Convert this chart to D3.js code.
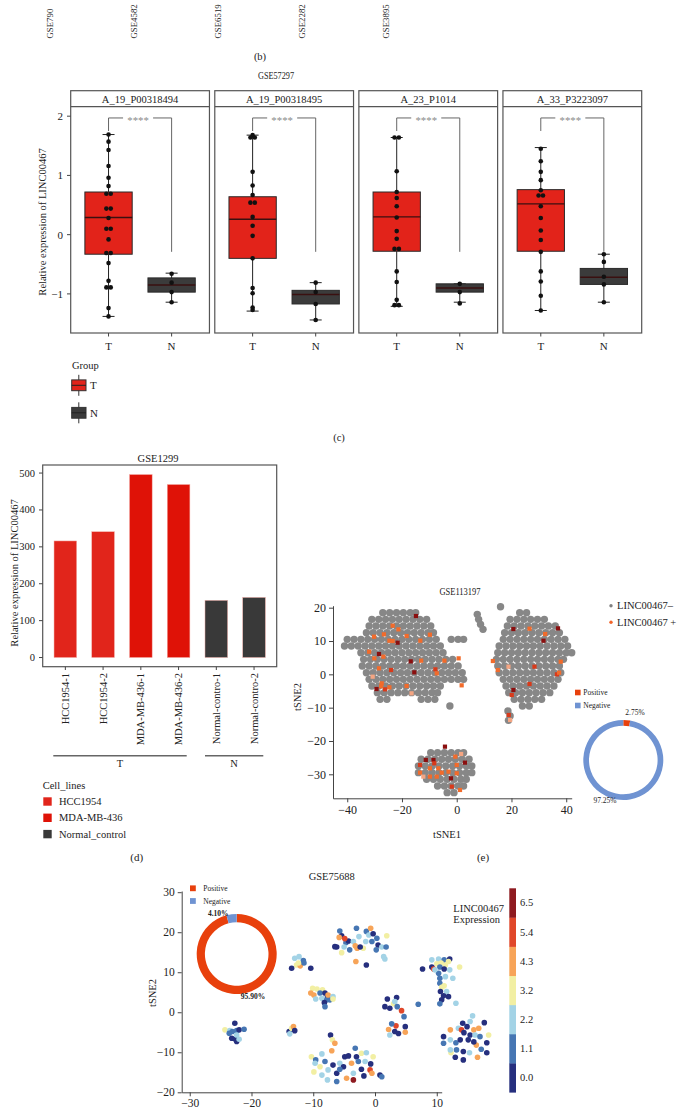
<!DOCTYPE html>
<html><head><meta charset="utf-8">
<script src="https://cdnjs.cloudflare.com/ajax/libs/d3/7.8.5/d3.min.js"></script>
<style>
body{margin:0;background:#fff}
svg{display:block}
text{font-family:"Liberation Serif","Times New Roman",serif;fill:#222}
</style></head>
<body><svg id="c" width="678" height="1109"></svg>
<script>
// ---------------- DATA ----------------
const panelBLabels = ["GSE790","GSE4582","GSE6519","GSE2282","GSE3895"];

const probes = ["A_19_P00318494","A_19_P00318495","A_23_P1014","A_33_P3223097"];
const groups = ["T","N"];
// [lowWhisker, q1, median, q3, highWhisker]
const boxT = [[-1.38,-0.33,0.29,0.72,1.69],[-1.29,-0.40,0.26,0.64,1.68],[-1.21,-0.28,0.30,0.72,1.64],[-1.28,-0.28,0.52,0.76,1.47]];
const boxN = [[-1.14,-0.97,-0.85,-0.73,-0.65],[-1.44,-1.17,-1.01,-0.94,-0.81],[-1.14,-0.97,-0.90,-0.83,-0.83],[-1.14,-0.84,-0.72,-0.57,-0.33]];
const ptsT = [
 [1.69,1.57,1.43,1.16,0.96,0.82,0.69,0.69,0.44,0.44,0.28,0.10,0.10,-0.08,-0.31,-0.31,-0.48,-0.78,-0.89,-0.89,-1.24,-1.38],
 [1.68,1.64,1.64,1.06,0.83,0.67,0.54,0.54,0.30,0.15,-0.02,-0.40,-0.90,-0.99,-1.23,-1.27],
 [1.64,1.64,1.07,0.72,0.62,0.48,0.29,0.06,-0.07,-0.24,-0.24,-0.62,-0.80,-1.10,-1.19,-1.19],
 [1.45,1.24,1.06,0.92,0.75,0.66,0.66,0.48,0.28,0.07,-0.09,-0.29,-0.62,-0.79,-1.03,-1.28]];
const ptsN = [[-0.66,-0.81,-0.97,-1.14],[-0.81,-0.97,-1.17,-1.44],[-0.83,-0.97,-1.16],[-0.33,-0.46,-0.71,-0.84,-1.14]];
const sigLabel = "****";
const yTicksC = [-1,0,1,2];

const cellSamples = ["HCC1954-1","HCC1954-2","MDA-MB-436-1","MDA-MB-436-2","Normal-contro-1","Normal-contro-2"];
const cellLine = ["HCC1954","HCC1954","MDA-MB-436","MDA-MB-436","Normal_control","Normal_control"];
const cellValues = [316,341,496,469,155,163];
const cellLines = ["HCC1954","MDA-MB-436","Normal_control"];
const yTicksD = [0,100,200,300,400,500];

// GSE113197 t-SNE: grey (LINC00467-) cells, rows of [tSNE2, [tSNE1...]]
const greyRowsE = [
 [18.5,[-27,-24.5,-22,-19.5,-17,-15]],
 [16.5,[-31,-28.5,-26,-23.5,-21,-18.5,-16,-13.5,-11]],
 [14.5,[-32,-29.5,-27,-24.5,-22,-19.5,-17,-14.5,-12,-9.5]],
 [12.5,[-33,-30.5,-28,-25.5,-23,-20.5,-18,-15.5,-13,-10.5,-8.5]],
 [10.5,[-40,-37.5,-35,-32.5,-30,-27.5,-25,-22.5,-20,-17.5,-15,-12.5,-10,-7.5,-2,0.5,2.5]],
 [8.5,[-41,-38.5,-36,-33.5,-31,-28.5,-26,-23.5,-21,-18.5,-16,-13.5,-11,-8.5,-6]],
 [6.5,[-35,-32.5,-30,-27.5,-25,-22.5,-20,-17.5,-15,-12.5,-10,-7.5,-5]],
 [4.5,[-34,-31.5,-29,-26.5,-24,-21.5,-19,-16.5,-14,-11.5,-9,-6.5,-4,-1.5]],
 [2.5,[-34.5,-32,-29.5,-27,-24.5,-22,-19.5,-17,-14.5,-12,-9.5,-7,-4.5,-2,0.5]],
 [0.5,[-33,-30.5,-28,-25.5,-23,-20.5,-18,-15.5,-13,-10.5,-8,-5.5,-3,-0.5,2]],
 [-1.5,[-32,-29.5,-27,-24.5,-22,-19.5,-17,-14.5,-12,-9.5,-7,-4.5,-2,0.5,2.5]],
 [-3.5,[-31,-28.5,-26,-23.5,-21,-18.5,-16,-13.5,-11,-8.5,-6]],
 [-5.5,[-29,-26.5,-24,-21.5,-19,-16.5,-14,-11.5,-9,-7]],
 [-7.5,[-28,-25.5,-13,-10.5,-8]],
 [-9.5,[-2.5]],
 [18.5,[23,25.5]],
 [16.5,[19.5,22,24.5,27,29.5,32]],
 [14.5,[18.5,21,23.5,26,28.5,31,33.5,36]],
 [12.5,[17.5,20,22.5,25,27.5,30,32.5,35,37.5]],
 [10.5,[17,19.5,22,24.5,27,29.5,32,34.5,37,39.5]],
 [8.5,[15.5,18,20.5,23,25.5,28,30.5,33,35.5,38,40.5]],
 [6.5,[15,17.5,20,22.5,25,27.5,30,32.5,35,37.5,40,42]],
 [4.5,[14.5,17,19.5,22,24.5,27,29.5,32,34.5,37,39]],
 [2.5,[15,17.5,20,22.5,25,27.5,30,32.5,35,37.5]],
 [0.5,[15.5,18,20.5,23,25.5,28,30.5,33,35.5,38]],
 [-1.5,[17,19.5,22,24.5,27,29.5,32,34.5,37]],
 [-3.5,[18,20.5,23,25.5,28,30.5,33,35.5]],
 [-5.5,[19,21.5,24,26.5,29,31.5,34]],
 [-7.5,[21,23.5,26,28.5,31]],
 [-9.5,[24,26.5]],
 [18,[7.5]],[16.5,[8]],[15,[8.7]],[13.5,[9.6]],[20.3,[16]],
 [-11,[18.7]],[-12.5,[19.5]],[-13.8,[18.9]],
 [-23.5,[-9.5,-7,-4.5,-2,0.5,2.5]],
 [-25.5,[-13,-10.5,-8,-5.5,-3,-0.5,2,4.5]],
 [-27.5,[-14,-11.5,-9,-6.5,-4,-1.5,1,3.5,5.5]],
 [-29.5,[-14,-11.5,-9,-6.5,-4,-1.5,1,3.5,5.5]],
 [-31.5,[-11,-8.5,-6,-3.5,-1,1.5,3.5]],
 [-33.5,[-7,-4.5,-2,0.5,2.5]],
 [-35.5,[-3.5,-1]]
];
// LINC00467+ cells: [tSNE1, tSNE2, level 0..3]
const posE = [
 [-14.9,17.5,3],[-23.4,14.6,1],[-26.6,12,1],[-21.3,13.5,1],[-30.2,11.3,1],[-24.6,10.1,1],[-23.4,10,1],[-21.6,9.5,3],
 [-18.3,11.5,1],[-13.3,10.1,1],[-9.8,11.9,1],[-32,6.8,1],[-28.4,6.1,3],[-30.1,4.8,1],[-26.8,5.3,1],[-16.8,3.9,3],
 [-13,4.1,1],[-4.5,4.1,1],[-28.4,1.8,1],[-24,1.3,2],[-15.5,0.6,3],[-7.8,1.5,2],[-7.3,0.3,1],[-30.7,-0.7,0],
 [-27.4,-2.7,1],[-29.3,-4.4,3],[-26.2,-4.5,2],[-24.6,-3.9,1],[-27.6,-3.6,1],[-18.3,-3.5,1],[-16.5,-5.7,0],[1.8,-3.3,1],[0.7,4.8,1],
 [20.7,13.6,3],[26.6,13.7,1],[32.3,12.1,1],[37,13.8,3],[31.7,10.1,3],[13.2,4,1],[15,1.3,1],[18.9,2.3,0],[28.4,2.3,2],
 [38,3.8,1],[36.6,0,2],[37.4,0.5,1],[26.6,-2.9,2],[20.7,-4.7,3],[20.1,-6.2,2],[19,-12.2,2],[19.5,-13.7,0],
 [-4.3,-21.7,3],[-11.3,-25.7,3],[-8.5,-25.7,3],[-8.2,-26.7,2],[-13.4,-27.2,2],[-9.8,-28.2,1],[-13.4,-29.5,1],[-6.7,-28.2,1],
 [-3,-29.2,1],[0,-27.2,1],[0,-29.7,1],[3,-26.5,3],[-0.5,-24.7,1],[1.6,-23.9,0],[-2.1,-31.2,3],[-7.3,-30.7,1],
 [-9.8,-30.7,1],[-1.8,-33.7,2],[1.2,-34.7,1],[-5.5,-29.5,1],[-12.2,-30.7,0]
];
const posLevelColorsE = ["#F4A582","#F26B2B","#D93A1A","#8B0F0F"];
const legendE = ["LINC00467\u2013","LINC00467 +"];
const pieELabels = ["Positive","Negative"];
const pieEValues = [2.75,97.25];
const ticksE_x = [-40,-20,0,20,40];
const ticksE_y = [-30,-20,-10,0,10,20];

// GSE75688 t-SNE: [tSNE1, tSNE2, expression level index]
const ptsF = [
 [-5.7,20.3,1],[-5.4,19.1,0],[-5.8,18.7,4],[-6.2,16.3,0],[-4.7,17.4,1],[-4.3,17.8,0],[-3.5,17.7,2],[-3,21,1],[-2.6,18.9,2],
 [-3.2,16.6,4],[-2.9,16,4],[-1.4,20.2,1],[-1,19.3,2],[-0.3,19.6,0],[-0.7,21,4],[-0.5,17.7,1],[-1.5,17.7,2],[0.3,18.5,1],
 [0.5,16.8,0],[1.1,16.3,2],[1.9,19.1,3],[1.8,16.3,1],[-1.9,16,3],[-2.4,16.3,0],[-5.4,14.9,3],[-4.1,15.6,1],[-3.1,12.7,4],
 [-1.4,11.8,0],[1.6,13.3,2],[0.2,15.6,1],[-5,16.3,2],[1.4,13.9,2],[-6.5,16.4,0],[-4.9,18.4,5],
 [-13,13.5,2],[-12.3,13.9,2],[-11.6,12.9,1],[-12.7,11.8,3],[-12.1,11.6,4],[-11.5,12.3,1],[-13.5,11,0],[-10.4,11,0],[-12.4,12.3,3],
 [-10.1,6,3],[-9.4,5.8,3],[-8.5,5.6,3],[-10.4,4.8,4],[-9.9,4.3,4],[-8.9,4.8,1],[-8.1,4.8,0],[-7.7,3.8,0],[-8.6,3.5,2],
 [-7.8,3.1,1],[-7.3,3.1,1],[-8.2,2.4,0],[-9.6,3.3,2],[-7.6,4.3,4],[-6.8,3.9,2],[-8.1,1.4,1],[-6.8,3.3,3],
 [2,3.3,0],[3.5,3.7,0],[1.6,1.4,0],[2.4,1,0],[3,2.1,3],[3.2,2.7,2],[4.3,0.4,5],[3.6,1.4,1],[4.7,-1.1,1],[3.4,-3.4,5],
 [2.7,-2.9,1],[2.2,-4.3,4],[3.2,-4.8,0],[2.4,-5.7,2],[3.8,-5.3,0],[4.9,-3.6,0],[4.9,-5,4],[7,2,1],
 [7.7,10.8,0],[9.2,13.1,2],[10.3,13.3,2],[11.2,13.1,1],[12.1,13.3,0],[10,12.1,3],[10.7,12.3,3],[11.4,11.8,3],[11.9,12.7,3],
 [9.2,11.3,0],[10.5,11.3,1],[11.2,10.8,0],[12.1,10.6,2],[9.5,10.8,5],[13.7,11.3,3],[10.3,9.75,1],[10.5,8.5,1],[11.4,8.9,2],
 [12.6,8.5,2],[10.5,7.25,1],[10.8,6.25,3],[11.2,6.6,3],[10.6,5.2,0],[11.6,5.2,2],[11.1,4.1,0],[10.8,3.1,0],[10.5,2.1,1],
 [11.9,3.9,0],[13.1,2.25,2],[9.7,10.6,2],
 [15.8,-0.9,2],[17.7,-2.6,0],[15.4,-2.3,2],[14.2,-2.75,0],[13.5,-4,2],[14.9,-3.6,0],[16,-4.4,4],[16.8,-4,4],[12.2,-4.4,4],
 [14,-4.4,5],[14.4,-5.1,0],[11.1,-6.1,0],[12.2,-6.9,2],[13.1,-7.6,1],[13.8,-6.9,0],[15.1,-6.9,0],[15.4,-5.7,0],[16.2,-5.7,2],
 [17,-6.1,1],[18.4,-5.7,3],[18.1,-7.6,0],[16.4,-8.2,4],[17.2,-9.25,1],[18.1,-10.1,0],[12.3,-10.1,3],[13.2,-9.4,1],
 [14.3,-9.8,0],[15.3,-10.1,2],[16.6,-11.25,4],[14.3,-11.9,0],[13,-11.25,0],[11.1,-7.75,1],[12.2,-9.4,2],[16,-7.4,0],
 [-7.2,-5.7,0],[-6.9,-6.9,3],[-6.5,-7.75,4],[-10.3,-11.1,3],[-9.6,-11.9,1],[-8.6,-10.4,2],[-9.7,-12.75,2],[-8.9,-13.6,3],
 [-8.1,-12.3,1],[-7.6,-14.4,2],[-6.8,-13.2,0],[-5.7,-12.75,2],[-4.9,-11.1,0],[-4.3,-10.9,0],[-3.2,-9,1],[-3,-11.1,0],
 [-2.2,-10.25,3],[-1.4,-10.1,2],[-0.3,-11.1,3],[-5.1,-13.6,0],[-3.8,-12.75,4],[-2.7,-12.3,1],[-1.6,-12.3,2],[-0.7,-12.9,0],
 [-2.2,-14.25,0],[-3.5,-15.25,2],[-3.5,-16.9,6],[-4.6,-16.5,4],[-6.2,-15.25,0],[-8.6,-15.7,2],[-7.7,-16.9,2],[-6.2,-17.3,1],
 [-0.8,-14.4,5],[-0.5,-15.25,4],[0.8,-15.7,0],[1.1,-16.1,1],[-1.8,-15.9,0],[-9.9,-14.9,3],[-5.7,-14.25,1],[-7,-9.6,4],
 [-13.9,-4.8,0],[-13.5,-4,3],[-13.2,-3.6,4],[-13,-4.6,0],[-13.8,-5.4,2],
 [-22.7,-2.75,0],[-24.3,-4.4,3],[-23.5,-4.6,2],[-23.1,-4.8,1],[-22.4,-4.6,1],[-22,-4.4,0],[-21.2,-4.25,1],[-23.2,-6.5,0],
 [-22.6,-6.75,0],[-22.4,-7.3,0],[-22,-6.75,2],[-23.6,-5.25,1],[-22.4,-5.7,2]
];
const exprLevels = ["0.0","1.1","2.2","3.2","4.3","5.4","6.5"];
const exprColors = ["#262F7E","#4676B3","#A3D3E6","#F2EFA3","#F7A458","#E0472A","#8E1A20"];
const pieFLabels = ["Positive","Negative"];
const pieFValues = [95.90,4.10];
const ticksF_x = [-30,-20,-10,0,10];
const ticksF_y = [-20,-10,0,10,20,30];

// ---------------- DRAW ----------------
const svg = d3.select("#c");
svg.append("rect").attr("width",678).attr("height",1109).attr("fill","#fff");
const AX = "#444";
function txt(g,x,y,s,size,anchor,extra){
  const t=g.append("text").attr("x",x).attr("y",y).attr("font-size",size).attr("text-anchor",anchor||"middle")
   .attr("dominant-baseline","central").text(s);
  if(extra) extra(t);
  return t;
}
function vtxt(x,y,s,size,anchor){
  return svg.append("text").attr("transform",`translate(${x},${y}) rotate(-90)`).attr("font-size",size)
    .attr("text-anchor",anchor||"middle").attr("dominant-baseline","central").text(s);
}
const condensed = len => t => t.attr("textLength",len).attr("lengthAdjust","spacingAndGlyphs");

// ---- panel b remnants ----
const bx = d3.scalePoint().domain(panelBLabels).range([50,386]);
panelBLabels.forEach(l=>vtxt(bx(l),38.5,l,8.8,"start"));
txt(svg,260,56,"(b)",10.5);

// ---- panel c ----
txt(svg,276,75,"GSE57297",11,"middle",condensed(36));
const yC = d3.scaleLinear().domain([-1.66,2.16]).range([333,106.7]);
const fx = d3.scaleBand().domain(probes).range([70.7,641.7]).paddingInner(0.037);
const bw = fx.bandwidth();
const gx = d3.scalePoint().domain(groups).range([0,bw]).padding(0.6);
const boxW = gx.step()*0.75;
const fillC = {T:"#E2231A",N:"#3B3B3B"};
probes.forEach((p,i)=>{
  const g = svg.append("g").attr("transform",`translate(${fx(p)},0)`);
  g.append("rect").attr("x",0).attr("y",90.7).attr("width",bw).attr("height",333-90.7).attr("fill","none").attr("stroke","#555").attr("stroke-width",1.2);
  g.append("line").attr("x1",0).attr("x2",bw).attr("y1",106.7).attr("y2",106.7).attr("stroke","#555").attr("stroke-width",1.2);
  txt(g,bw/2,99,p,10.5);
  groups.forEach(gr=>{
    const st = gr==="T"?boxT[i]:boxN[i];
    const pts = gr==="T"?ptsT[i]:ptsN[i];
    const cx = gx(gr);
    g.append("line").attr("x1",cx).attr("x2",cx).attr("y1",yC(st[0])).attr("y2",yC(st[4])).attr("stroke","#222").attr("stroke-width",1);
    [st[0],st[4]].forEach(v=>g.append("line").attr("x1",cx-6).attr("x2",cx+6).attr("y1",yC(v)).attr("y2",yC(v)).attr("stroke","#222"));
    g.append("rect").attr("x",cx-boxW/2).attr("width",boxW).attr("y",yC(st[3])).attr("height",yC(st[1])-yC(st[3]))
      .attr("fill",fillC[gr]).attr("stroke","#2a2a2a").attr("stroke-width",1);
    g.append("line").attr("x1",cx-boxW/2).attr("x2",cx+boxW/2).attr("y1",yC(st[2])).attr("y2",yC(st[2])).attr("stroke","#3a1010").attr("stroke-width",1.4);
    const seen = {};
    pts.forEach(v=>{
      const k=v.toFixed(2); seen[k]=(seen[k]||0)+1;
      const dup = pts.filter(u=>u.toFixed(2)===k).length;
      const off = dup>1 ? (seen[k]===1?-2.2:2.2) : 0;
      g.append("circle").attr("cx",cx+off).attr("cy",yC(v)).attr("r",2.3).attr("fill","#111");
    });
    g.append("line").attr("x1",cx).attr("x2",cx).attr("y1",333).attr("y2",336.5).attr("stroke",AX);
    txt(g,cx,345.5,gr,11);
  });
  // significance bracket
  const xa=gx("T"), xb=gx("N"), ym=yC(1.97), mid=(xa+xb)/2-2;
  g.append("path").attr("d",`M${xa},${yC(1.75)}V${ym}H${mid-15}M${mid+15},${ym}H${xb}V${yC(-0.29)}`)
    .attr("fill","none").attr("stroke","#666").attr("stroke-width",1);
  txt(g,mid,ym+2.5,sigLabel,10.8,"middle",t=>t.style("fill","#8a8a8a"));
});
yTicksC.forEach(v=>{
  svg.append("line").attr("x1",67).attr("x2",70.7).attr("y1",yC(v)).attr("y2",yC(v)).attr("stroke",AX);
  txt(svg,63,yC(v),String(v).replace("-","\u2212"),11,"end");
});
vtxt(42,222,"Relative expression of LINC00467",10.5);
// legend c
txt(svg,72,365,"Group",10.5,"start");
[["T",385.3],["N",412.8]].forEach(([gname,cy])=>{
  svg.append("line").attr("x1",78.8).attr("x2",78.8).attr("y1",cy-10.5).attr("y2",cy+10.5).attr("stroke","#333");
  svg.append("rect").attr("x",71.7).attr("y",cy-5.4).attr("width",14.3).attr("height",10.8).attr("fill",fillC[gname]).attr("stroke","#333");
  svg.append("line").attr("x1",71.7).attr("x2",86).attr("y1",cy).attr("y2",cy).attr("stroke","#222");
  txt(svg,90,cy,gname,11,"start");
});
txt(svg,339,437,"(c)",10.5);

// ---- panel d ----
txt(svg,158,458,"GSE1299",10.5);
const xD = d3.scalePoint().domain(cellSamples).range([42.7,276.7]).padding(0.6);
const barW = xD.step()*0.6;
const yD = d3.scaleLinear().domain([-24.85,521.85]).range([666.7,465]);
const colD = d3.scaleOrdinal().domain(cellLines).range(["#E1251B","#DF1207","#393939"]);
svg.append("rect").attr("x",42.7).attr("y",465).attr("width",234).attr("height",201.7).attr("fill","none").attr("stroke","#555").attr("stroke-width",1.2);
cellSamples.forEach((s,i)=>{
  svg.append("rect").attr("x",xD(s)-barW/2).attr("width",barW).attr("y",yD(cellValues[i])).attr("height",yD(0)-yD(cellValues[i]))
    .attr("fill",colD(cellLine[i])).attr("stroke","#f3b0aa").attr("stroke-width",0.5);
  svg.append("line").attr("x1",xD(s)).attr("x2",xD(s)).attr("y1",666.7).attr("y2",670).attr("stroke",AX);
  vtxt(xD(s),673,s,10.5,"end");
});
yTicksD.forEach(v=>{
  svg.append("line").attr("x1",39).attr("x2",42.7).attr("y1",yD(v)).attr("y2",yD(v)).attr("stroke",AX);
  txt(svg,35,yD(v),v,10.5,"end");
});
vtxt(14,573,"Relative expression of LINC00467",10.5);
svg.append("line").attr("x1",53.3).attr("x2",186.7).attr("y1",755.7).attr("y2",755.7).attr("stroke","#666").attr("stroke-width",1.5);
txt(svg,120,763.5,"T",10.5);
svg.append("line").attr("x1",205).attr("x2",263.3).attr("y1",755.7).attr("y2",755.7).attr("stroke","#666").attr("stroke-width",1.5);
txt(svg,234,763.5,"N",10.5);
txt(svg,42.7,785.7,"Cell_lines",10.5,"start");
cellLines.forEach((c,i)=>{
  const cy = 801.5+i*16.3;
  svg.append("rect").attr("x",43.3).attr("y",cy-4.2).attr("width",8.4).attr("height",8.4).attr("fill",colD(c));
  txt(svg,59,cy,c,10.5,"start");
});
txt(svg,136.7,856.7,"(d)",11);

// ---- panel e ----
txt(svg,460,591,"GSE113197",11,"middle",condensed(41));
const xE = d3.scaleLinear().domain([-45.2,42]).range([333,571.7]);
const yE = d3.scaleLinear().domain([-37.2,20.6]).range([798.3,605.7]);
const gE = svg.append("g");
greyRowsE.forEach(([yv,xs])=>xs.forEach(xv=>{
  gE.append("circle").attr("cx",xE(xv)).attr("cy",yE(yv)).attr("r",3.7).attr("fill","#878787");
}));
posE.forEach(([xv,yv,l])=>{
  gE.append("rect").attr("x",xE(xv)-2.1).attr("y",yE(yv)-2.1).attr("width",4.2).attr("height",4.2).attr("fill",posLevelColorsE[l]);
});
svg.append("g").attr("class","axE").attr("transform","translate(0,798.3)").call(d3.axisBottom(xE).tickValues(ticksE_x).tickSize(4).tickSizeOuter(0));
svg.append("g").attr("class","axE").attr("transform","translate(333,0)").call(d3.axisLeft(yE).tickValues(ticksE_y).tickSize(4).tickSizeOuter(0));
txt(svg,447,834,"tSNE1",10.5);
vtxt(297,697,"tSNE2",10.5);
[["#808080",605.7],["#F2652A",622.3]].forEach(([c,y],i)=>{
  svg.append("circle").attr("cx",611).attr("cy",y).attr("r",1.7).attr("fill",c);
  txt(svg,617,y,legendE[i],10.5,"start");
});
const pieE = d3.pie().sort(null).value(d=>d)(pieEValues);
const arcE = d3.arc().innerRadius(34.3).outerRadius(40);
const pieColors = {Positive:"#E8400C",Negative:"#6F93D2"};
svg.append("g").attr("transform","translate(623.3,760)").selectAll("path").data(pieE).join("path")
  .attr("d",arcE).attr("fill",(d,i)=>pieColors[pieELabels[i]]);
txt(svg,635,712.7,"2.75%",7.5);
txt(svg,605,800,"97.25%",7.5);
pieELabels.forEach((l,i)=>{
  const cy=692.5+i*13;
  svg.append("rect").attr("x",575).attr("y",cy-2.8).attr("width",5.6).attr("height",5.6).attr("fill",pieColors[l]);
  txt(svg,583.3,cy,l,7.5,"start");
});
txt(svg,483,856.7,"(e)",11);

// ---- panel f ----
txt(svg,331.7,876,"GSE75688",10.5);
const xF = d3.scaleLinear().domain([-31.3,10.8]).range([181.7,441.7]);
const yF = d3.scaleLinear().domain([-20,30.3]).range([1092.3,891]);
const colF = d3.scaleOrdinal().domain(exprLevels).range(exprColors);
ptsF.forEach(([xv,yv,l])=>{
  svg.append("circle").attr("cx",xF(xv)).attr("cy",yF(yv)).attr("r",2.8).attr("fill",colF(exprLevels[l]));
});
svg.append("g").attr("class","axF").attr("transform","translate(0,1092.3)").call(d3.axisBottom(xF).tickValues(ticksF_x).tickSize(4).tickSizeOuter(0));
svg.append("g").attr("class","axF").attr("transform","translate(181.7,0)").call(d3.axisLeft(yF).tickValues(ticksF_y).tickSize(4).tickSizeOuter(0));
vtxt(152,993,"tSNE2",10.5);
const pieF = d3.pie().sort(null).value(d=>d)(pieFValues);
const arcF = d3.arc().innerRadius(31.8).outerRadius(40);
svg.append("g").attr("transform","translate(236.7,954)").selectAll("path").data(pieF).join("path")
  .attr("d",arcF).attr("fill",(d,i)=>pieColors[pieFLabels[i]]);
txt(svg,218.3,913.3,"4.10%",7.5,"middle",t=>t.attr("font-weight","bold"));
txt(svg,253,996,"95.90%",7.5,"middle",t=>t.attr("font-weight","bold"));
pieFLabels.forEach((l,i)=>{
  const cy=888.3+i*12.7;
  svg.append("rect").attr("x",190).attr("y",cy-2.9).attr("width",5.8).attr("height",5.8).attr("fill",pieColors[l]);
  txt(svg,203.3,cy,l,7.5,"start");
});
// colour bar
const cb = d3.scaleBand().domain(exprLevels.slice().reverse()).range([888.3,1092.3]);
exprLevels.forEach(l=>{
  svg.append("rect").attr("x",509.3).attr("width",6.7).attr("y",cb(l)).attr("height",cb.bandwidth()+0.3).attr("fill",colF(l));
  txt(svg,520,cb(l)+cb.bandwidth()/2,l,10.5,"start");
});
txt(svg,453.3,908.3,"LINC00467",10.5,"start");
txt(svg,453.3,919.8,"Expression",10.5,"start");

// axis style
svg.selectAll(".domain").attr("stroke",AX);
svg.selectAll(".tick line").attr("stroke",AX);
svg.selectAll(".tick text").attr("fill","#222").style("font-family","'Liberation Serif','Times New Roman',serif");
svg.selectAll(".axE .tick text").attr("font-size",12);
svg.selectAll(".axF .tick text").attr("font-size",11.5);
</script></body></html>
